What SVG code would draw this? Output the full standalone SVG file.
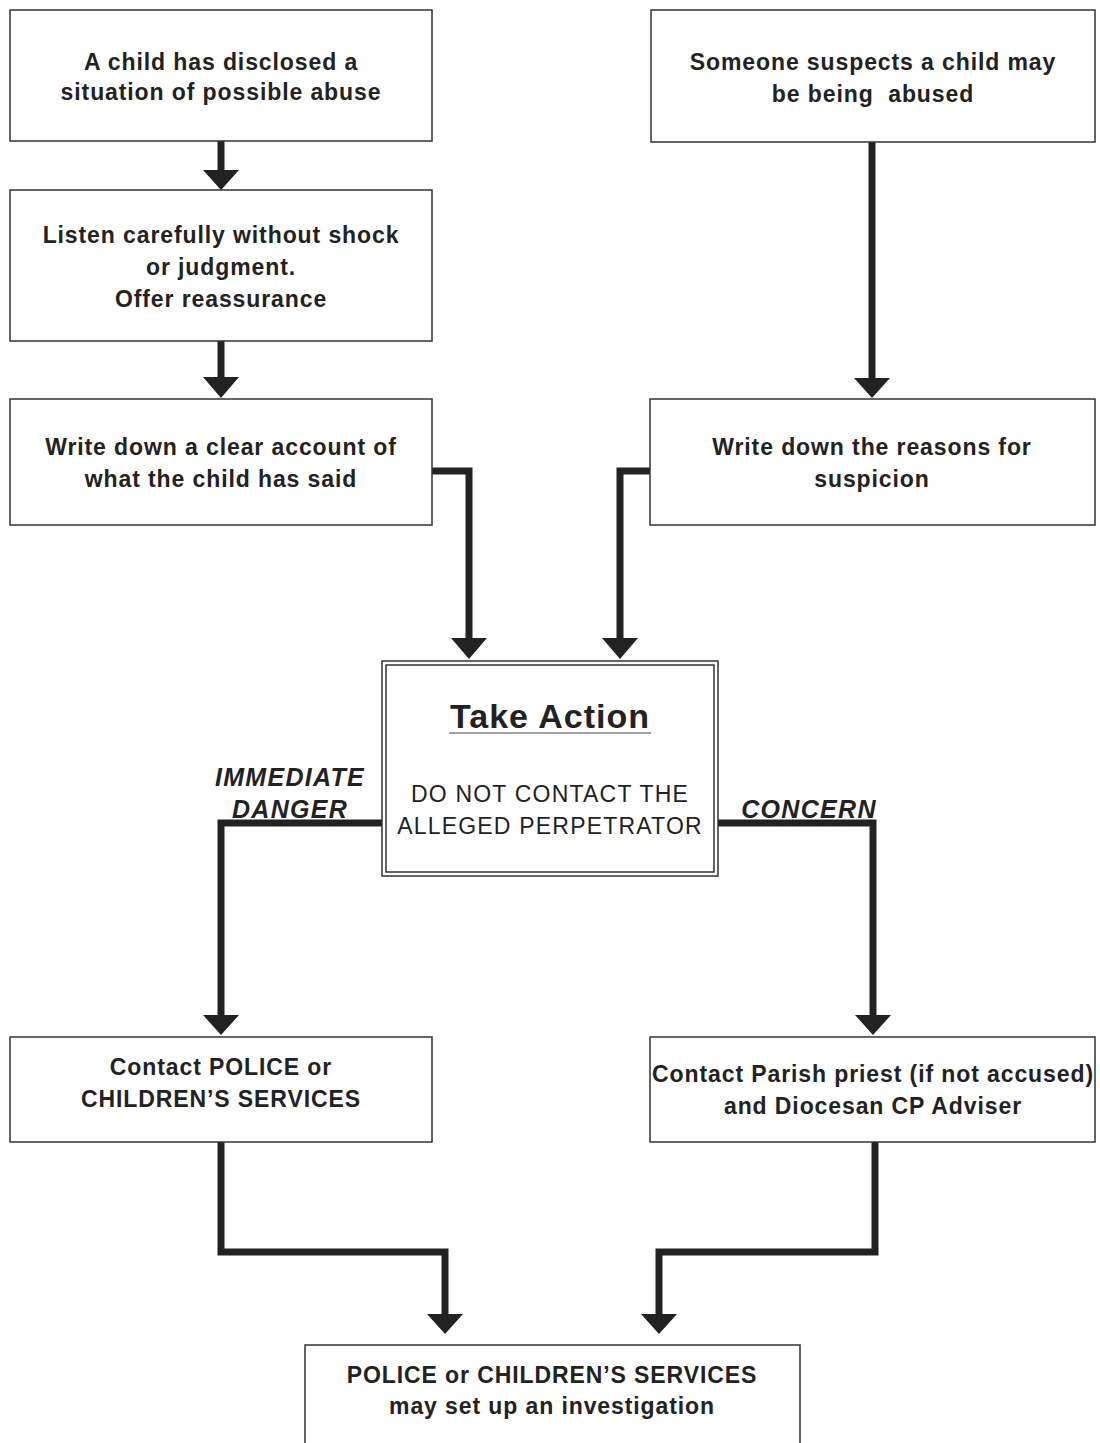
<svg xmlns="http://www.w3.org/2000/svg" width="1100" height="1443" viewBox="0 0 1100 1443">
<defs>
<style>
.box{fill:#fff;stroke:#333;stroke-width:1.5}
.t{font-family:"Liberation Sans",Arial,sans-serif;font-weight:bold;font-size:23px;letter-spacing:0.9px;fill:#222;text-anchor:middle}
.r{font-weight:normal;letter-spacing:1.2px}
.lbl{font-family:"Liberation Sans",Arial,sans-serif;font-weight:bold;font-style:italic;font-size:25px;letter-spacing:1.3px;fill:#222;text-anchor:middle}
.c{fill:none;stroke:#222;stroke-width:7;stroke-linejoin:miter}
</style>
</defs>
<rect width="1100" height="1443" fill="#fff"/>
<g id="connectors">
<path class="c" d="M221,141 V170"/><path d="M203,170 H239 L221,190 Z" fill="#222"/>
<path class="c" d="M221,341 V377"/><path d="M203,377 H239 L221,398 Z" fill="#222"/>
<path class="c" d="M872,142 V378"/><path d="M854,378 H890 L872,398 Z" fill="#222"/>
<path class="c" d="M432,471 H469 V638"/><path d="M451,638 H487 L469,659 Z" fill="#222"/>
<path class="c" d="M650,471 H620 V638"/><path d="M602,638 H638 L620,659 Z" fill="#222"/>
<path class="c" d="M382,823 H221 V1015"/><path d="M203,1015 H239 L221,1035 Z" fill="#222"/>
<path class="c" d="M718,823 H873 V1015"/><path d="M855,1015 H891 L873,1035 Z" fill="#222"/>
<path class="c" d="M221,1142 V1252 H445 V1314"/><path d="M427,1314 H463 L445,1334 Z" fill="#222"/>
<path class="c" d="M875,1142 V1252 H659 V1314"/><path d="M641,1314 H677 L659,1334 Z" fill="#222"/>
</g>
<g id="n1"><rect class="box" x="10" y="10" width="422" height="131"/>
<text class="t" x="221" y="70">A child has disclosed a</text>
<text class="t" x="221" y="100">situation of possible abuse</text></g>
<g id="n2"><rect class="box" x="651" y="10" width="444" height="132"/>
<text class="t" x="873" y="70">Someone suspects a child may</text>
<text class="t" x="873" y="102" style="white-space:pre">be being  abused</text></g>
<g id="n3"><rect class="box" x="10" y="190" width="422" height="151"/>
<text class="t" x="221" y="243">Listen carefully without shock</text>
<text class="t" x="221" y="275">or judgment.</text>
<text class="t" x="221" y="307">Offer reassurance</text></g>
<g id="n4"><rect class="box" x="10" y="399" width="422" height="126"/>
<text class="t" x="221" y="455">Write down a clear account of</text>
<text class="t" x="221" y="487">what the child has said</text></g>
<g id="n5"><rect class="box" x="650" y="399" width="445" height="126"/>
<text class="t" x="872" y="455">Write down the reasons for</text>
<text class="t" x="872" y="487">suspicion</text></g>
<g id="n6"><rect class="box" x="382" y="661" width="336" height="215"/>
<rect fill="none" stroke="#333" stroke-width="1.5" x="386" y="665" width="328" height="207"/>
<text class="t" x="550" y="728" style="font-size:34px;letter-spacing:1px">Take Action</text>
<line x1="449" y1="733" x2="651" y2="733" stroke="#444" stroke-width="1.2"/>
<text class="t r" x="550" y="802">DO NOT CONTACT THE</text>
<text class="t r" x="550" y="834">ALLEGED PERPETRATOR</text></g>
<g id="labels">
<text class="lbl" x="290" y="786">IMMEDIATE</text>
<text class="lbl" x="290" y="818">DANGER</text>
<text class="lbl" x="809" y="818">CONCERN</text>
</g>
<g id="n7"><rect class="box" x="10" y="1037" width="422" height="105"/>
<text class="t" x="221" y="1075">Contact POLICE or</text>
<text class="t" x="221" y="1107">CHILDREN’S SERVICES</text></g>
<g id="n8"><rect class="box" x="650" y="1037" width="445" height="105"/>
<text class="t" x="873" y="1082">Contact Parish priest (if not accused)</text>
<text class="t" x="873" y="1114">and Diocesan CP Adviser</text></g>
<g id="n9"><path class="box" d="M305,1443 V1345 H800 V1443"/>
<text class="t" x="552" y="1383">POLICE or CHILDREN’S SERVICES</text>
<text class="t" x="552" y="1414">may set up an investigation</text></g>
</svg>
